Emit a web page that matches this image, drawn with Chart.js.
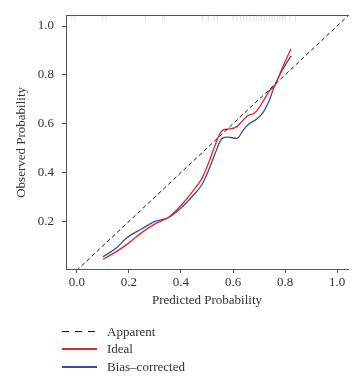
<!DOCTYPE html>
<html>
<head>
<meta charset="utf-8">
<script src="https://cdn.jsdelivr.net/npm/chart.js@4"></script>
<style>
  body { margin: 0; background: #fff; }
  .wrap { position: relative; width: 353px; height: 377px; }
  .legend { position: absolute; left: 62px; top: 323px; font: 13px "Liberation Serif", "DejaVu Serif", serif; color: #333; }
  .legend div { height: 17.6px; display: flex; align-items: center; }
  .legend span.key { display: inline-block; width: 35px; margin-right: 10px; }
</style>
</head>
<body>
<div class="wrap">
  <canvas id="myChart"></canvas>
  <div class="legend" id="legend"></div>
</div>
<script>
// predicted probability (x) and observed probability (y)
const idealX = [0.10, 0.15, 0.20, 0.25, 0.30, 0.35, 0.40, 0.45, 0.48, 0.51, 0.53, 0.558, 0.58, 0.61, 0.635, 0.655, 0.68, 0.70, 0.72, 0.74, 0.76, 0.79, 0.823];
const idealY = [0.045, 0.075, 0.112, 0.155, 0.19, 0.215, 0.265, 0.33, 0.375, 0.45, 0.51, 0.572, 0.578, 0.585, 0.61, 0.632, 0.642, 0.665, 0.70, 0.735, 0.756, 0.83, 0.907];
const biasX = [0.10, 0.15, 0.19, 0.25, 0.30, 0.35, 0.40, 0.45, 0.48, 0.51, 0.53, 0.558, 0.58, 0.615, 0.64, 0.66, 0.69, 0.715, 0.74, 0.76, 0.79, 0.823];
const biasY = [0.055, 0.09, 0.131, 0.17, 0.20, 0.215, 0.255, 0.31, 0.35, 0.42, 0.475, 0.54, 0.545, 0.54, 0.575, 0.598, 0.618, 0.645, 0.697, 0.756, 0.82, 0.878];
const apparentX = [-0.1, 1.1];
const rugX = [-0.02, -0.008, 0.099, 0.112, 0.263, 0.33, 0.338, 0.483, 0.505, 0.527, 0.54, 0.60, 0.615, 0.63, 0.64, 0.653, 0.665, 0.68, 0.69, 0.70, 0.71, 0.72, 0.73, 0.74, 0.75, 0.76, 0.77, 0.78, 0.79, 0.80, 0.82, 0.84];
const xTicks = [0, 0.2, 0.4, 0.6, 0.8, 1.0];
const yTicks = [0.2, 0.4, 0.6, 0.8, 1.0];
const legendNames = ['Apparent', 'Ideal', 'Bias\u2013corrected'];

const serif = '"Liberation Serif", "DejaVu Serif", serif';
const axisColor = '#555';

function pts(xs, ys) { return xs.map((x, i) => ({x: x, y: ys[i]})); }

let ctx = document.getElementById('myChart').getContext('2d');
let myChart = new Chart(ctx, {
    type: 'scatter',
    data: {
        datasets: [
            {
                label: legendNames[0],
                data: pts(apparentX, apparentX),
                showLine: true, borderColor: '#111', borderWidth: 1, borderDash: [4, 3],
                pointRadius: 0
            },
            {
                label: legendNames[1],
                data: pts(idealX, idealY),
                showLine: true, borderColor: '#e3262d', borderWidth: 1.3,
                cubicInterpolationMode: 'monotone', pointRadius: 0
            },
            {
                label: legendNames[2],
                data: pts(biasX, biasY),
                showLine: true, borderColor: '#3a4c9c', borderWidth: 1.3,
                cubicInterpolationMode: 'monotone', pointRadius: 0
            },
            {
                label: 'rug',
                data: rugX.map(x => ({x: x, y: 1.031})),
                showLine: false, pointStyle: 'line', rotation: 90, pointRadius: 3,
                borderColor: '#e2e2e2', borderWidth: 1, backgroundColor: '#e2e2e2'
            }
        ]
    },
    options: {
        responsive: true,
        maintainAspectRatio: false,
        animation: false,
        layout: { padding: { top: 0, right: 0, left: 0, bottom: 67 } },
        plugins: { legend: { display: false }, tooltip: { enabled: false } },
        scales: {
            x: {
                type: 'linear', min: -0.042, max: 1.042,
                afterFit: s => { s.height = 41; },
                afterBuildTicks: s => { s.ticks = xTicks.map(v => ({value: v})); },
                grid: { drawOnChartArea: false, drawTicks: true, tickLength: 4, color: axisColor },
                border: { color: axisColor },
                ticks: { font: { family: serif, size: 13 }, color: '#333', padding: 2, maxRotation: 0,
                         callback: v => v.toFixed(1) },
                title: { display: true, text: 'Predicted Probability', font: { family: serif, size: 13 },
                         color: '#333', padding: { top: 0, bottom: 2 } }
            },
            xTop: {
                type: 'linear', position: 'top', min: 0, max: 1,
                afterFit: s => { s.height = 6; },
                grid: { display: false },
                ticks: { display: false },
                border: { display: true, color: axisColor }
            },
            y: {
                type: 'linear', min: 0.005, max: 1.042,
                afterFit: s => { s.width = 66; },
                afterBuildTicks: s => { s.ticks = yTicks.map(v => ({value: v})); },
                grid: { drawOnChartArea: false, drawTicks: true, tickLength: 4, color: axisColor },
                border: { color: axisColor },
                ticks: { font: { family: serif, size: 13 }, color: '#333', padding: 8,
                         callback: v => v.toFixed(1) },
                title: { display: true, text: 'Observed Probability', font: { family: serif, size: 13 },
                         color: '#333', padding: { top: 14, bottom: 0 } }
            }
        }
    }
});

// legend below the chart, built from the datasets
let legend = document.getElementById('legend');
myChart.data.datasets.slice(0, 3).forEach(ds => {
    let row = document.createElement('div');
    let style = ds.borderDash
        ? 'height:1.3px;background:repeating-linear-gradient(to right,#111 0 7px,transparent 7px 13px)'
        : 'height:2px;background:' + ds.borderColor;
    row.innerHTML = `<span class="key" style="${style}"></span><span>${ds.label}</span>`;
    legend.appendChild(row);
});
</script>
</body>
</html>
